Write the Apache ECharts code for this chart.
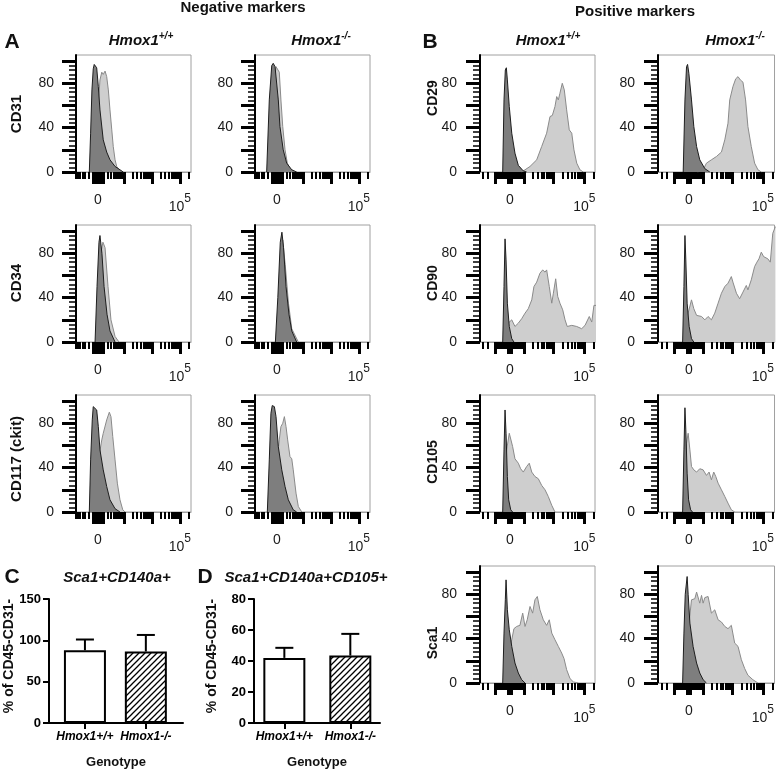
<!DOCTYPE html>
<html><head><meta charset="utf-8">
<script src="https://cdn.jsdelivr.net/npm/echarts@6/dist/echarts.min.js"></script>
<style>html,body{margin:0;padding:0;background:#fff}#c{width:777px;height:771px}</style>
</head><body><div id="c"></div><script>
// ---------- DATA ----------
// Histograms: x in display units (0 = zero, tick "10^5" near 5), y = % of max
const A_CD31_WT_iso = [[-0.53,0],[-0.45,35],[-0.37,74],[-0.29,93],[-0.23,97],[-0.08,94],[0.02,77],[0.12,56],[0.32,29],[0.53,18],[0.73,11],[1.04,5],[1.34,2],[1.54,0]];
const A_CD31_WT_stain = [[-0.29,0],[-0.08,35],[0.04,65],[0.12,83],[0.23,90],[0.32,88],[0.43,91],[0.53,86],[0.63,74],[0.73,56],[0.84,38],[0.93,23],[1.04,11],[1.14,5],[1.34,1],[1.54,0]];
const A_CD31_KO_iso = [[-0.63,0],[-0.47,65],[-0.32,96],[-0.23,98],[-0.12,95],[0.08,65],[0.18,41],[0.38,20],[0.59,8],[0.9,2],[1.2,0]];
const A_CD31_KO_stain = [[-0.53,0],[-0.18,80],[-0.06,95],[0.04,96],[0.14,90],[0.24,65],[0.35,41],[0.49,20],[0.63,8],[0.79,3],[1.1,0]];
const A_CD34_WT_iso = [[-0.18,0],[-0.06,50],[0.06,90],[0.12,96],[0.24,80],[0.37,50],[0.55,25],[0.73,10],[1.04,0]];
const A_CD34_WT_stain = [[-0.12,0],[0.18,80],[0.3,90],[0.43,85],[0.61,50],[0.79,20],[1.04,5],[1.28,0]];
const A_CD34_KO_iso = [[-0.1,0],[0.05,40],[0.2,90],[0.3,99],[0.4,85],[0.55,50],[0.73,25],[0.9,10],[1.2,0]];
const A_CD34_KO_stain = [[0,0],[0.25,80],[0.35,92],[0.5,70],[0.7,35],[0.9,12],[1.3,0]];
const A_CD117_WT_iso = [[-0.53,0],[-0.45,47],[-0.35,83],[-0.29,95],[-0.18,95],[-0.08,92],[0.02,77],[0.12,56],[0.32,38],[0.53,23],[0.73,11],[1.04,3],[1.34,0]];
const A_CD117_WT_stain = [[-0.38,0],[0.0,30],[0.12,55],[0.23,65],[0.32,71],[0.43,72],[0.53,83],[0.69,90],[0.79,86],[0.9,68],[1.04,47],[1.18,26],[1.34,11],[1.51,2],[1.65,0]];
const A_CD117_KO_iso = [[-0.59,0],[-0.47,47],[-0.37,89],[-0.29,96],[-0.16,95],[-0.06,86],[0.08,59],[0.29,38],[0.49,23],[0.69,11],[0.99,2],[1.2,0]];
const A_CD117_KO_stain = [[-0.43,0],[0.0,45],[0.14,65],[0.24,77],[0.35,80],[0.45,86],[0.55,77],[0.65,65],[0.79,50],[0.9,48],[0.99,38],[1.16,17],[1.3,5],[1.51,0]];

const B_CD29_WT_iso = [[-0.5,0],[-0.41,65],[-0.32,92],[-0.25,94],[-0.18,83],[-0.05,59],[0.12,35],[0.34,17],[0.57,6],[0.91,1],[1.14,0]];
const B_CD29_WT_stain = [[0.8,0],[0.91,1],[1.37,5],[1.83,11],[2.17,23],[2.51,35],[2.74,50],[2.9,51],[3.08,59],[3.2,68],[3.31,65],[3.42,71],[3.58,80],[3.72,74],[3.88,56],[4.06,38],[4.23,35],[4.38,20],[4.57,8],[4.79,2],[5.02,0]];
const B_CD29_KO_iso = [[-0.39,0],[-0.27,65],[-0.16,95],[-0.09,97],[0,89],[0.18,65],[0.34,41],[0.53,23],[0.75,11],[1.1,3],[1.44,0]];
const B_CD29_KO_stain = [[0.6,0],[0.98,2],[1.21,8],[1.55,11],[1.9,14],[2.24,18],[2.47,29],[2.69,44],[2.81,65],[3.03,77],[3.22,84],[3.38,86],[3.54,83],[3.72,81],[3.9,65],[4.06,41],[4.29,23],[4.52,8],[4.75,2],[4.98,0]];
const B_CD90_WT_iso = [[-0.5,0],[-0.41,50],[-0.34,93],[-0.27,74],[-0.18,35],[-0.05,14],[0.12,3],[0.27,0]];
const B_CD90_WT_stain = [[-0.46,0],[-0.12,17],[0.12,20],[0.34,14],[0.57,17],[0.8,21],[1.03,26],[1.25,30],[1.49,38],[1.64,50],[1.83,54],[2.05,62],[2.24,65],[2.4,63],[2.51,65],[2.69,50],[2.86,35],[2.97,44],[3.13,57],[3.27,41],[3.42,35],[3.61,29],[3.77,20],[3.92,14],[4.23,15],[4.57,14],[4.91,12],[5.14,15],[5.43,23],[5.6,18],[5.75,33],[5.95,33]];
const B_CD90_KO_iso = [[-0.43,0],[-0.34,50],[-0.27,96],[-0.21,74],[-0.12,35],[0.02,14],[0.18,3],[0.34,0]];
const B_CD90_KO_stain = [[-0.39,0],[-0.05,26],[0.18,38],[0.34,30],[0.53,24],[0.87,23],[1.1,20],[1.32,23],[1.55,20],[1.78,26],[2.01,35],[2.24,44],[2.47,50],[2.69,53],[2.92,59],[3.03,54],[3.27,44],[3.49,39],[3.72,45],[3.95,51],[4.06,47],[4.29,56],[4.52,68],[4.68,72],[4.82,75],[4.98,81],[5.14,77],[5.27,78],[5.43,75],[5.6,72],[5.77,98],[5.95,104]];
const B_CD105_WT_iso = [[-0.5,0],[-0.41,56],[-0.34,92],[-0.27,71],[-0.18,32],[-0.09,11],[0.05,2],[0.18,0]];
const B_CD105_WT_stain = [[-0.46,0],[-0.23,56],[-0.05,71],[0.05,72],[0.18,59],[0.34,48],[0.57,44],[0.73,39],[0.91,36],[1.14,41],[1.32,44],[1.49,36],[1.71,32],[1.94,30],[2.17,24],[2.4,20],[2.62,14],[2.86,6],[3.08,0]];
const B_CD105_KO_iso = [[-0.43,0],[-0.34,56],[-0.27,94],[-0.21,74],[-0.12,35],[-0.02,11],[0.12,2],[0.25,0]];
const B_CD105_KO_stain = [[-0.3,0],[-0.16,62],[-0.05,71],[0.07,56],[0.18,41],[0.34,38],[0.53,36],[0.75,39],[0.98,38],[1.21,33],[1.39,36],[1.55,29],[1.71,36],[1.85,32],[2.01,26],[2.24,20],[2.47,14],[2.69,8],[2.92,2],[3.15,0]];
const B_Sca1_WT_iso = [[-0.5,0],[-0.41,45],[-0.32,75],[-0.27,93],[-0.18,66],[-0.05,48],[0.12,33],[0.34,18],[0.57,9],[0.8,3],[1.03,0]];
const B_Sca1_WT_stain = [[-0.34,0],[-0.1,25],[0.12,39],[0.27,49],[0.46,51],[0.68,52],[0.87,63],[1.03,51],[1.18,57],[1.37,69],[1.55,63],[1.71,75],[1.87,78],[2.05,66],[2.28,57],[2.51,52],[2.69,57],[2.86,45],[3.08,39],[3.31,33],[3.54,27],[3.7,22],[3.88,12],[4.11,4],[4.34,1],[4.68,0]];
const B_Sca1_KO_iso = [[-0.43,0],[-0.34,45],[-0.25,80],[-0.12,96],[-0.05,80],[0.07,54],[0.29,33],[0.53,18],[0.75,9],[0.98,3],[1.21,0]];
const B_Sca1_KO_stain = [[-0.3,0],[-0.1,40],[0.18,75],[0.41,76],[0.53,82],[0.75,72],[0.87,79],[0.98,72],[1.1,77],[1.32,78],[1.55,63],[1.78,66],[2.01,57],[2.24,55],[2.47,51],[2.69,49],[2.92,52],[3.15,36],[3.38,33],[3.61,21],[3.84,13],[4.06,7],[4.4,3],[4.75,0]];

const histYTicks = [0,20,40,60,80,100];
const histYLabels = [0,40,80];
const genotypes = ['Hmox1+/+','Hmox1-/-'];
const C_mean = [88, 86.5], C_sem = [13, 20];
const D_mean = [42, 43.5], D_sem = [6.5, 14];

// ---------- LAYOUT ----------
const FONT = '"Liberation Sans", Arial, Helvetica, sans-serif';
const rowTop = [55, 225, 395, 566], boxH = 117, yMax = 105.5;
const geo = {
  A: {left:[76,255], width:[115,115], zero:[22,22], ppu:16.4, T:{K:0.7416,a:119.6}, lblMargin:22},
  B: {left:[480,658], width:[115,117], zero:[30,31], ppu:14.6, T:{K:0.918,a:391}, lblMargin:23}
};
const panels = [
  ['A',0,0,A_CD31_WT_iso,A_CD31_WT_stain],['A',0,1,A_CD31_KO_iso,A_CD31_KO_stain],
  ['A',1,0,A_CD34_WT_iso,A_CD34_WT_stain],['A',1,1,A_CD34_KO_iso,A_CD34_KO_stain],
  ['A',2,0,A_CD117_WT_iso,A_CD117_WT_stain],['A',2,1,A_CD117_KO_iso,A_CD117_KO_stain],
  ['B',0,0,B_CD29_WT_iso,B_CD29_WT_stain],['B',0,1,B_CD29_KO_iso,B_CD29_KO_stain],
  ['B',1,0,B_CD90_WT_iso,B_CD90_WT_stain],['B',1,1,B_CD90_KO_iso,B_CD90_KO_stain],
  ['B',2,0,B_CD105_WT_iso,B_CD105_WT_stain],['B',2,1,B_CD105_KO_iso,B_CD105_KO_stain],
  ['B',3,0,B_Sca1_WT_iso,B_Sca1_WT_stain],['B',3,1,B_Sca1_KO_iso,B_Sca1_KO_stain]
];

function disp(T, v){ return T.K*Math.asinh(v/(2*T.a)); }
function xTicks(T, min, max){
  const major=[0], minor=[];
  [10,100,1000,10000,100000].forEach(dec=>{
    for(let k=1;k<=9;k++){
      [1,-1].forEach(s=>{
        const p = disp(T, s*k*dec);
        if(p<min||p>max) return;
        if((k===1 && dec>=100) || dec===10) major.push(p); else minor.push(p);
      });
    }
  });
  return {major, minor};
}
const minorY = []; for(let v=4; v<100; v+=4) if(v%20) minorY.push(v);

const grids=[], xAxes=[], yAxes=[], series=[];
panels.forEach(([g,row,col,iso,stain])=>{
  const G=geo[g];
  const left=G.left[col], width=G.width[col], top=rowTop[row];
  const min=-G.zero[col]/G.ppu, max=(width-G.zero[col])/G.ppu;
  const tk=xTicks(G.T,min,max);
  const lab5=disp(G.T,1e5);
  const gi=grids.length;
  grids.push({left,top,width,height:boxH,show:true,borderColor:'#a0a0a0',borderWidth:1,backgroundColor:'transparent'});
  grids.push({left,top,width,height:boxH,show:false});
  xAxes.push({type:'value',gridIndex:gi,min,max,
    axisLine:{show:true,onZero:false,lineStyle:{color:'#a0a0a0',width:1}},
    axisTick:{show:true,customValues:tk.major,length:12,lineStyle:{color:'#000',width:3}},
    axisLabel:{show:true,customValues:[0,lab5],margin:21,fontSize:14,fontFamily:FONT,color:'#1a1a1a',
      formatter:v=>v>1?'{b|10}{s|5}':'0',
      rich:{b:{fontSize:14,fontFamily:FONT,color:'#1a1a1a',verticalAlign:'bottom'},s:{fontSize:12,fontFamily:FONT,color:'#1a1a1a',padding:[0,0,9,0],verticalAlign:'bottom'}}},
    splitLine:{show:false}});
  xAxes.push({type:'value',gridIndex:gi+1,min,max,axisLine:{show:false,onZero:false},
    axisTick:{show:true,customValues:tk.minor,length:7,lineStyle:{color:'#000',width:2}},
    axisLabel:{show:false},splitLine:{show:false}});
  yAxes.push({type:'value',gridIndex:gi,min:0,max:yMax,
    axisLine:{show:true,onZero:false,lineStyle:{color:'#000',width:2}},
    axisTick:{show:true,customValues:histYTicks,length:14,lineStyle:{color:'#000',width:3}},
    axisLabel:{show:true,customValues:histYLabels,margin:G.lblMargin,fontSize:14,fontFamily:FONT,color:'#1a1a1a'},
    splitLine:{show:false}});
  yAxes.push({type:'value',gridIndex:gi+1,min:0,max:yMax,axisLine:{show:false,onZero:false},
    axisTick:{show:true,customValues:minorY,length:7,lineStyle:{color:'#000',width:1.5}},
    axisLabel:{show:false},splitLine:{show:false}});
  series.push({type:'line',xAxisIndex:gi,yAxisIndex:gi,data:stain,showSymbol:false,symbol:'none',z:2,
    lineStyle:{color:'#8a8a8a',width:1},areaStyle:{color:'#cecece',opacity:1}});
  series.push({type:'line',xAxisIndex:gi,yAxisIndex:gi,data:iso,showSymbol:false,symbol:'none',z:3,
    lineStyle:{color:'#1e1e1e',width:1},areaStyle:{color:'#7e7e7e',opacity:1}});
});

// ----- bar panels C & D -----
function hatch(){
  const c=document.createElement('canvas'); c.width=c.height=6;
  const g=c.getContext('2d'); g.fillStyle='#fff'; g.fillRect(0,0,6,6);
  g.strokeStyle='#000'; g.lineWidth=1.3; g.beginPath();
  g.moveTo(-1,7); g.lineTo(7,-1); g.moveTo(-1,1); g.lineTo(1,-1); g.moveTo(5,7); g.lineTo(7,5); g.stroke();
  return c;
}
const pat = {image:hatch(), repeat:'repeat'};
function barPanel(left, width, top, height, xmin, xmax, ymax, yint, means, sems){
  const gi=grids.length;
  grids.push({left,top,width,height,show:false});
  xAxes.push({type:'value',gridIndex:gi,min:xmin,max:xmax,
    axisLine:{show:true,onZero:false,lineStyle:{color:'#000',width:2}},
    axisTick:{show:true,customValues:[0,1],length:6,lineStyle:{color:'#000',width:2}},
    axisLabel:{show:true,customValues:[0,1],margin:8,fontSize:12,fontWeight:'bold',fontStyle:'italic',fontFamily:FONT,color:'#000',
      formatter:v=>genotypes[Math.round(v)]},
    splitLine:{show:false}});
  yAxes.push({type:'value',gridIndex:gi,min:0,max:ymax,interval:yint,
    axisLine:{show:true,onZero:false,lineStyle:{color:'#000',width:2}},
    axisTick:{show:true,length:6,lineStyle:{color:'#000',width:2}},
    axisLabel:{margin:8,fontSize:13,fontWeight:'bold',fontFamily:FONT,color:'#000'},
    splitLine:{show:false}});
  series.push({type:'bar',xAxisIndex:gi,yAxisIndex:gi,barWidth:42,z:2,
    data:means.map((m,i)=>({value:[i,m],itemStyle:{color:i?pat:'#fff',borderColor:'#000',borderWidth:2}}))});
  series.push({type:'custom',xAxisIndex:gi,yAxisIndex:gi,z:3,
    data:means.map((m,i)=>[i,m,sems[i]]),
    renderItem:(p,api)=>{
      const x=api.value(0), m=api.value(1), e=api.value(2);
      const a=api.coord([x,m]), b=api.coord([x,m+e]);
      return {type:'group',children:[
        {type:'line',shape:{x1:a[0],y1:a[1],x2:b[0],y2:b[1]},style:{stroke:'#000',lineWidth:2}},
        {type:'line',shape:{x1:b[0]-9,y1:b[1],x2:b[0]+9,y2:b[1]},style:{stroke:'#000',lineWidth:2}}]};
    }});
}
barPanel(49,134,599,124,-0.59,1.61,150,50,C_mean,C_sem);
barPanel(254,126,599,124,-0.46,1.45,80,20,D_mean,D_sem);

// ----- text -----
function T(text,x,y,o){ return {type:'text',x,y,style:Object.assign({text,fontFamily:FONT,fontSize:15,fontWeight:'bold',fill:'#111',
  align:'center',verticalAlign:'middle',textAlign:'center',textVerticalAlign:'middle'},o||{})}; }
function R(text,x,y,o){ const t=T(text,x,y,o); t.rotation=Math.PI/2; return t; }
function hdr(sup,x,y){
  return {type:'text',x,y,style:{text:'{m|Hmox1}{s|'+sup+'}',align:'center',verticalAlign:'middle',textAlign:'center',textVerticalAlign:'middle',
    rich:{m:{fontFamily:FONT,fontSize:15,fontWeight:'bold',fontStyle:'italic',fill:'#111',verticalAlign:'bottom'},
          s:{fontFamily:FONT,fontSize:10,fontWeight:'bold',fontStyle:'italic',fill:'#111',padding:[0,0,7,0],verticalAlign:'bottom'}}}};
}
const graphic = [
  T('Negative markers',243,8),T('Positive markers',635,12),
  T('A',12,42,{fontSize:21}),T('B',430,42,{fontSize:21}),
  T('C',12,577,{fontSize:21}),T('D',205,577,{fontSize:21}),
  hdr('+/+',141,40),hdr('-/-',321,40),hdr('+/+',548,40),hdr('-/-',735,40),
  R('CD31',17,114),R('CD34',17,283),R('CD117 (ckit)',17,459),
  R('CD29',433,98,{fontSize:14}),R('CD90',433,283,{fontSize:14}),R('CD105',433,462,{fontSize:14}),R('Sca1',433,643,{fontSize:14}),
  T('Sca1+CD140a+',117,578,{fontStyle:'italic'}),T('Sca1+CD140a+CD105+',306,578,{fontStyle:'italic'}),
  R('% of CD45-CD31-',9,656,{fontSize:14}),R('% of CD45-CD31-',212,656,{fontSize:14}),
  T('Genotype',116,762,{fontSize:13}),T('Genotype',317,762,{fontSize:13})
];

const chart = echarts.init(document.getElementById('c'),null,{renderer:'canvas'});
chart.setOption({animation:false,backgroundColor:'#fff',grid:grids,xAxis:xAxes,yAxis:yAxes,series,graphic});
</script></body></html>
